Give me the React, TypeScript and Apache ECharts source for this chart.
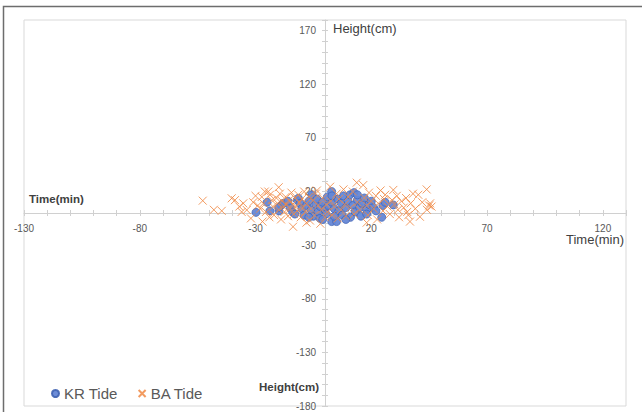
import React, { useEffect, useRef } from "react";
import * as echarts from "echarts";

const seriesNames = ["KR Tide", "BA Tide"];

const krTide: number[][] = [
  [-29.8, 0.6], [-23.8, 2], [-19.9, 2], [-18.7, 7.5], [-18, 9], [-15, 5], [-12, 12], [-11.5, 13.7],
  [-10.8, 9], [-10, 4], [-9, -2], [-8, 7], [-7, 11], [-6, 3], [-5.7, 17], [-5, -3], [-4, 8],
  [-3.5, 13], [-3, 1], [-2.2, -5], [-2, 6], [-1, 10], [0, 3], [0.5, -1], [1, 15], [1.5, 7],
  [2.9, 20], [2.9, -8], [3, 10], [4, 4], [5, -8], [5.5, 13], [6, 2], [7, 9], [7.5, -2], [8, 16],
  [9, 5], [10, 11], [10.8, 17], [11, -4], [12, 7], [12.5, 19], [13, 1], [14, 12], [15, 5],
  [15.5, -3], [16, 9], [17, 14], [18, 3], [19, 8], [20, 11], [21, 5], [22, 2], [24.5, -4],
  [25, 7], [26, 10], [29.5, 7.5], [-14, 1], [-16, 11], [-20, 5], [-25, 10], [-13, -1], [-1, -6],
  [4, -3], [9, -6], [-7, -4], [3, 16], [14, 17], [18, -1]
];

const baTide: number[][] = [
  [-52.8, 11.5], [-48, 3], [-44.6, 2], [-40.3, 13.7], [-38.9, 12], [-37, 6], [-35.3, 9],
  [-33.8, 2.8], [-32, -5], [-31, 10], [-30, 16], [-28, 4], [-27.3, 15], [-26.6, 9], [-26, 20],
  [-25.5, 1], [-24.5, 20], [-23.8, 17], [-23, 12], [-22.5, 6], [-22, -2], [-21, 14], [-20.5, 9],
  [-20, 3], [-19.5, 18], [-19, -6], [-18.5, 11], [-18, 6], [-17.5, 1], [-17, 15], [-16.5, 8],
  [-16, -3], [-15.5, 12], [-15, 4], [-14.5, 19], [-14, 8], [-13.8, -12.8], [-13.5, -1], [-13, 14],
  [-12.5, 6], [-12, 2], [-11.5, 17], [-11, 10], [-10.5, -4], [-10, 13], [-9.5, 5], [-9, 20],
  [-8.5, 1], [-8, 9], [-7, 15], [-6.5, -7], [-6, 4], [-5, 12], [-4.5, -2], [-4, 18], [-3, 7],
  [-2, -10], [-1.5, 3], [-1, 14], [0, -4], [0.5, 8], [1, 1], [2.2, 24.5], [2.5, 11], [3, -2],
  [4, 6], [5, 18], [5.5, -5], [6, 13], [7, 3], [8, 22], [8.5, 8], [9, -3], [10, 15], [11, 5],
  [12, 20], [12.5, -1], [13.7, 28.3], [14, 10], [15, 3], [16.5, 26], [17, 14], [18, 7],
  [18.5, -2], [19, 19], [20, 11], [21, 4], [22, 16], [22.5, -6], [23, 9], [24, 21], [25, 2],
  [25.5, 13], [26, 17], [27, 6], [28, -1], [29, 12], [29.5, 21.5], [30, 8], [31, 16], [31.5, 3],
  [32, -4], [33, 11], [34, 5], [35, 14], [35.5, 1], [36, -2], [36.7, -8], [37, 9], [38, 18],
  [39, 4], [40.3, 17], [41, -3.5], [42, 10], [43.9, 22], [44, 3], [45.4, 9], [45, 7], [46, 6],
  [-3.5, 21], [-27, -8], [-20, 24], [-8, -9], [18, -9], [-36, 1], [-29, 7], [-24, -4]
];

const xMin = -130;
const xMax = 130;
const yMin = -180;
const yMax = 180;
const labelStep = 50;

const xTitle = "Time(min)";
const yTitle = "Height(cm)";

const FONT = "'Liberation Sans', Arial, sans-serif";

// grid geometry (pixels)
const G_LEFT = 24;
const G_RIGHT = 16;
const G_TOP = 20;
const G_BOTTOM = 6;
const W = 642;
const H = 412;

export default function App() {
  const ref = useRef<HTMLDivElement>(null);
  useEffect(() => {
    if (!ref.current) return;
    const chart = echarts.init(ref.current, undefined, { renderer: "svg" });
    const axisColor = "#D0D0D0";
    const labelColor = "#595959";
    const gw = W - G_LEFT - G_RIGHT;
    const gh = H - G_TOP - G_BOTTOM;
    const xZeroOffset = ((0 - xMin) / (xMax - xMin)) * gw;
    const yZeroOffset = ((0 - yMin) / (yMax - yMin)) * gh;

    const xBase = {
      type: "value",
      position: "bottom",
      offset: -yZeroOffset,
      min: xMin,
      max: xMax,
      interval: 10,
      splitLine: { show: false },
    };
    const yBase = {
      type: "value",
      position: "left",
      offset: -xZeroOffset,
      min: yMin,
      max: yMax,
      interval: 10,
      splitLine: { show: false },
    };

    chart.setOption({
      animation: false,
      backgroundColor: "#ffffff",
      grid: {
        left: G_LEFT,
        right: G_RIGHT,
        top: G_TOP,
        bottom: G_BOTTOM,
        show: true,
        borderColor: "#D9D9D9",
        borderWidth: 1,
        outerBoundsMode: "none",
        containLabel: false,
      },
      legend: {
        left: 46,
        bottom: 6,
        itemGap: 20,
        itemWidth: 7,
        itemHeight: 7,
        textStyle: { fontSize: 15, color: labelColor, fontFamily: FONT },
        data: seriesNames,
      },
      xAxis: [
        {
          ...xBase,
          axisLine: { onZero: false, lineStyle: { color: axisColor, width: 1 } },
          axisTick: { show: true, length: 3, lineStyle: { color: axisColor } },
          axisLabel: {
            color: labelColor,
            fontSize: 10,
            fontFamily: FONT,
            margin: 10,
            showMinLabel: true,
            showMaxLabel: true,
            hideOverlap: false,
            formatter: (v: number) => ((v - xMin) % labelStep === 0 ? String(v) : ""),
          },
        },
        {
          ...xBase,
          axisLine: { show: false, onZero: false },
          axisTick: { show: true, inside: true, length: 3, lineStyle: { color: axisColor } },
          axisLabel: { show: false },
        },
      ],
      yAxis: [
        {
          ...yBase,
          axisLine: { onZero: false, lineStyle: { color: axisColor, width: 1 } },
          axisTick: { show: true, length: 3, lineStyle: { color: axisColor } },
          axisLabel: {
            color: labelColor,
            fontSize: 10,
            fontFamily: FONT,
            margin: 9,
            showMinLabel: true,
            showMaxLabel: true,
            hideOverlap: false,
            formatter: (v: number) => ((v - yMin) % labelStep === 0 ? String(v) : ""),
          },
        },
        {
          ...yBase,
          axisLine: { show: false, onZero: false },
          axisTick: { show: true, inside: true, length: 3, lineStyle: { color: axisColor } },
          axisLabel: { show: false },
        },
      ],
      graphic: [
        {
          type: "rect",
          shape: { x: 3.5, y: 6.5, width: 700, height: 500 },
          style: { fill: "none", stroke: "#6d6d6d", lineWidth: 1.5 },
          silent: true,
          z: 0,
        },
        {
          type: "text",
          left: 333,
          top: 22,
          style: { text: yTitle, fontSize: 13, fill: "#404040", fontFamily: FONT },
        },
        {
          type: "text",
          left: 259,
          top: 381,
          style: { text: yTitle, fontSize: 11.5, fontWeight: "bold", fill: "#404040", fontFamily: FONT },
        },
        {
          type: "text",
          left: 29,
          top: 193,
          style: { text: xTitle, fontSize: 11.5, fontWeight: "bold", fill: "#404040", fontFamily: FONT },
        },
        {
          type: "text",
          left: 566,
          top: 233,
          style: { text: xTitle, fontSize: 13, fill: "#404040", fontFamily: FONT },
        },
      ],
      series: [
        {
          name: seriesNames[0],
          type: "scatter",
          xAxisIndex: 0,
          yAxisIndex: 0,
          data: krTide,
          symbol: "circle",
          symbolSize: 8,
          itemStyle: {
            color: "#6587D6",
            borderColor: "#4466B4",
            borderWidth: 0.8,
            opacity: 0.95,
          },
          z: 3,
        },
        {
          name: seriesNames[1],
          type: "scatter",
          xAxisIndex: 0,
          yAxisIndex: 0,
          data: baTide,
          symbol: "path://M0,0L10,10M10,0L0,10",
          symbolSize: 8,
          itemStyle: {
            color: "rgba(0,0,0,0)",
            borderColor: "#F08A45",
            borderWidth: 1,
            opacity: 0.85,
          },
          z: 4,
        },
      ],
    });
    return () => chart.dispose();
  }, []);
  return (
    <div
      ref={ref}
      style={{ position: "absolute", left: 0, top: 0, width: W, height: H }}
    />
  );
}
